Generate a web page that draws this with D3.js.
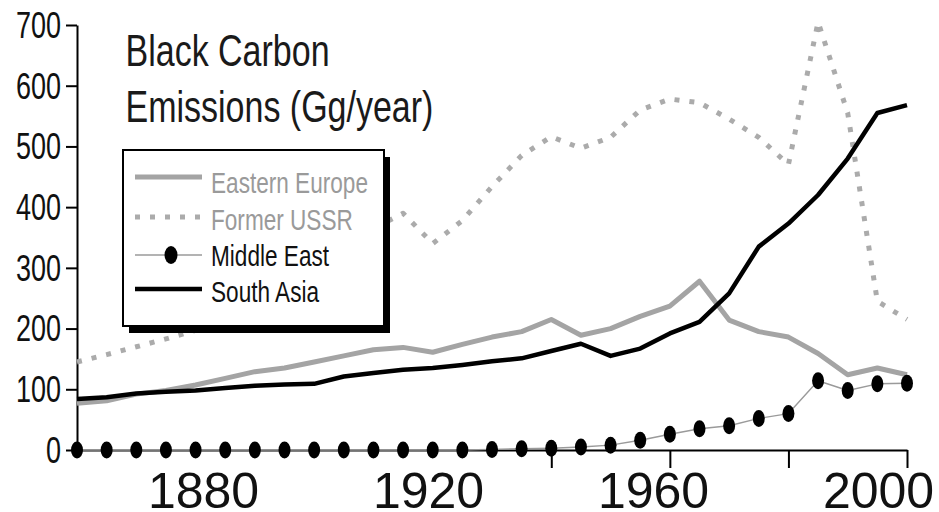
<!DOCTYPE html>
<html>
<head>
<meta charset="utf-8">
<script src="https://cdn.jsdelivr.net/npm/d3@7/dist/d3.min.js"></script>
<style>
  html, body { margin: 0; padding: 0; background: #fff; }
  svg { display: block; }
  text { font-family: "Liberation Sans", Arial, Helvetica, sans-serif; }
</style>
</head>
<body>
<svg id="chart" width="939" height="512"></svg>
<script>
// Black carbon emissions by region, Gg/year, five-year steps
const years = [1860, 1865, 1870, 1875, 1880, 1885, 1890, 1895, 1900, 1905,
               1910, 1915, 1920, 1925, 1930, 1935, 1940, 1945, 1950, 1955,
               1960, 1965, 1970, 1975, 1980, 1985, 1990, 1995, 2000];

const easternEurope = [77, 81, 92, 98, 107, 118, 129, 135, 145, 155,
                       165, 169, 161, 174, 186, 195, 215, 189, 200, 220,
                       237, 278, 214, 195, 186, 159, 124, 135, 124];

const formerUSSR = [145, 157, 170, 183, 197, 215, 240, 265, 295, 330,
                    365, 390, 340, 378, 434, 485, 516, 497, 515, 560,
                    578, 572, 545, 515, 470, 705, 555, 245, 215];

const middleEast = [0, 0, 0, 0, 0, 0, 0, 0, 0, 0,
                    0, 0, 0, 0, 1, 2, 3, 5, 8, 16,
                    26, 35, 40, 52, 60, 114, 98, 109, 110];

const southAsia = [84, 87, 93, 96, 98, 102, 106, 108, 109, 121,
                   127, 132, 135, 140, 146, 151, 163, 175, 155, 167,
                   192, 211, 258, 335, 373, 420, 480, 555, 568];

const yTicks = [0, 100, 200, 300, 400, 500, 600, 700];
const xTickMarks = [1940, 1960, 1980, 2000];
const xTickLabels = [1880, 1920, 1960, 2000];

const titleLines = ["Black Carbon", "Emissions (Gg/year)"];
const legendItems = [
  { name: "Eastern Europe", key: "ee" },
  { name: "Former USSR",    key: "ussr" },
  { name: "Middle East",    key: "me" },
  { name: "South Asia",     key: "sa" }
];

// styles per series
const styles = {
  ee:   { stroke: "#a4a4a4", width: 5,   dash: null,   text: "#9a9a9a" },
  ussr: { stroke: "#ababab", width: 5,   dash: "5,10", text: "#9a9a9a" },
  me:   { stroke: "#9a9a9a", width: 1.4, dash: null,   text: "#111" },
  sa:   { stroke: "#000",    width: 4.5, dash: null,   text: "#111" }
};

const svg = d3.select("#chart");

const x = d3.scaleLinear().domain([1860, 2000]).range([77, 907]);
const y = d3.scaleLinear().domain([0, 700]).range([450, 25]);
// year labels sit on their own, slightly wider band
const xLabel = d3.scaleLinear().domain([1880, 2000]).range([203, 878]);

const stretch = 1.34;

// y axis
const yAxisG = svg.append("g")
  .attr("transform", "translate(77,0)")
  .call(d3.axisLeft(y).tickValues(yTicks).tickSize(11).tickPadding(5).tickSizeOuter(0));
yAxisG.select(".domain").attr("stroke", "#000").attr("stroke-width", 2);
yAxisG.selectAll(".tick line").attr("stroke", "#000").attr("stroke-width", 2);
yAxisG.selectAll(".tick text")
  .attr("font-size", 27)
  .attr("fill", "#111")
  .attr("dy", "0.34em")
  .attr("transform", `scale(1,${stretch})`);

// x axis line and tick marks
const xAxisG = svg.append("g")
  .attr("transform", "translate(0,450)")
  .call(d3.axisBottom(x).tickValues(xTickMarks).tickSize(18).tickSizeOuter(0).tickFormat(""));
xAxisG.select(".domain").attr("stroke", "#000").attr("stroke-width", 2);
xAxisG.selectAll(".tick line").attr("stroke", "#000").attr("stroke-width", 2);

// x year labels
const xLabG = svg.append("g")
  .attr("transform", "translate(0,508)")
  .call(d3.axisBottom(xLabel).tickValues(xTickLabels).tickSize(0).tickPadding(0).tickFormat(d3.format("d")));
xLabG.select(".domain").remove();
xLabG.selectAll(".tick text")
  .attr("font-size", 50)
  .attr("fill", "#111")
  .attr("y", 0)
  .attr("dy", 0);

const seriesData = {
  ee: easternEurope,
  ussr: formerUSSR,
  me: middleEast,
  sa: southAsia
};

const line = d3.line()
  .x((d, i) => x(years[i]))
  .y(d => y(d));

function drawSeries(key) {
  const s = styles[key];
  svg.append("path")
    .datum(seriesData[key])
    .attr("fill", "none")
    .attr("stroke", s.stroke)
    .attr("stroke-width", s.width)
    .attr("stroke-linejoin", "round")
    .attr("stroke-dasharray", s.dash)
    .attr("d", line);
}

drawSeries("ee");
drawSeries("ussr");
drawSeries("sa");
drawSeries("me");

// Middle East markers
svg.append("g").selectAll("ellipse")
  .data(middleEast)
  .join("ellipse")
  .attr("cx", (d, i) => x(years[i]))
  .attr("cy", d => y(d))
  .attr("rx", 6)
  .attr("ry", 8.5)
  .attr("fill", "#000");

// legend box with drop shadow
const legend = svg.append("g");
legend.append("rect")
  .attr("x", 129).attr("y", 157).attr("width", 261).attr("height", 176)
  .attr("fill", "#000");
legend.append("rect")
  .attr("x", 123).attr("y", 150).attr("width", 261).attr("height", 176)
  .attr("fill", "#fff").attr("stroke", "#000").attr("stroke-width", 2);

const rowLineY = [177, 217, 255, 289];
const rowTextY = [193, 230, 266, 302];

legendItems.forEach((item, i) => {
  const s = styles[item.key];
  legend.append("line")
    .attr("x1", 135).attr("x2", 202)
    .attr("y1", rowLineY[i]).attr("y2", rowLineY[i])
    .attr("stroke", s.stroke)
    .attr("stroke-width", s.width)
    .attr("stroke-dasharray", s.dash);
  if (item.key === "me") {
    legend.append("ellipse")
      .attr("cx", 171).attr("cy", rowLineY[i])
      .attr("rx", 6.5).attr("ry", 9)
      .attr("fill", "#000");
  }
  legend.append("text")
    .attr("transform", `translate(211,${rowTextY[i]}) scale(1,1.33)`)
    .attr("font-size", 22.6)
    .attr("fill", s.text)
    .text(item.name);
});

// chart title
const titleY = [66, 122];
titleLines.forEach((t, i) => {
  svg.append("text")
    .attr("transform", `translate(125.5,${titleY[i]}) scale(1,1.3)`)
    .attr("font-size", 34)
    .attr("fill", "#1a1a1a")
    .text(t);
});
</script>
</body>
</html>
